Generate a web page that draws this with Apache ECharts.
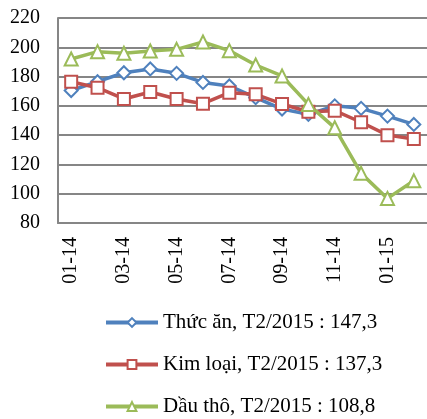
<!DOCTYPE html>
<html>
<head>
<meta charset="utf-8">
<script src="https://cdn.jsdelivr.net/npm/echarts@6/dist/echarts.min.js"></script>
<style>
    html, body { margin: 0; padding: 0; background: #fff; }
    #chart { width: 427px; height: 419px; }
</style>
</head>
<body>
<div id="chart"></div>
<script>
    // thang 01-14 .. 02-15
    var months = ["01-14", "02-14", "03-14", "04-14", "05-14", "06-14", "07-14",
                  "08-14", "09-14", "10-14", "11-14", "12-14", "01-15", "02-15"];
    var thucAn = [170.5, 176.5, 182.6, 185.2, 182.2, 176, 173.6, 165.6, 157.8, 154.2, 160, 158.3, 153, 147.3];
    var kimLoai = [176.5, 172.4, 164.7, 169.5, 164.7, 161.5, 169, 167.9, 161.3, 156, 156.7, 148.8, 140, 137.3];
    var dauTho = [192, 197, 195.9, 197.5, 198.6, 203.6, 197.7, 187.9, 180.4, 161, 145, 113.9, 96.8, 108.8];
    var names = ["Thức ăn, T2/2015 : 147,3", "Kim loại, T2/2015 : 137,3", "Dầu thô, T2/2015 : 108,8"];

    var font = "Liberation Serif";
    var eChart = echarts.init(document.getElementById("chart"));

    function lineSeries(name, data, color, symbol, size) {
        return {
            name: name,
            type: "line",
            data: data,
            symbol: symbol,
            symbolSize: size,
            lineStyle: { color: color, width: 3.5 },
            itemStyle: { color: "#fff", borderColor: color, borderWidth: 2 }
        };
    }

    // one legend per row so the rows keep their own spacing
    function legendRow(name, top) {
        return {
            orient: "vertical",
            left: 104,
            top: top,
            padding: 0,
            itemWidth: 52,
            itemHeight: 11,
            lineStyle: { width: 4 },
            textStyle: { fontFamily: font, fontSize: 21, color: "#000", padding: [0, 0, 0, 0] },
            data: [name]
        };
    }

    eChart.setOption({
        animation: false,
        textStyle: { fontFamily: font },
        grid: { left: 58, top: 18, width: 371, height: 205 },
        legend: [
            legendRow(names[0], 312),
            legendRow(names[1], 354),
            legendRow(names[2], 396)
        ],
        xAxis: {
            type: "category",
            data: months,
            boundaryGap: true,
            axisLine: { lineStyle: { color: "#868686", width: 2 } },
            axisTick: { interval: 1, length: 7, lineStyle: { color: "#868686", width: 2 } },
            axisLabel: { interval: 1, rotate: 90, margin: 14, fontSize: 20, color: "#000", fontFamily: font }
        },
        yAxis: {
            type: "value",
            min: 80,
            max: 220,
            interval: 20,
            axisLine: { show: true, lineStyle: { color: "#868686", width: 2 } },
            axisTick: { show: false },
            splitLine: { lineStyle: { color: "#868686", width: 2 } },
            axisLabel: { margin: 18, fontSize: 20, color: "#000", fontFamily: font }
        },
        series: [
            lineSeries(names[0], thucAn, "#4F81BD", "diamond", 13),
            lineSeries(names[1], kimLoai, "#C0504D", "rect", 12),
            lineSeries(names[2], dauTho, "#9BBB59", "triangle", 13)
        ]
    });
</script>
</body>
</html>
